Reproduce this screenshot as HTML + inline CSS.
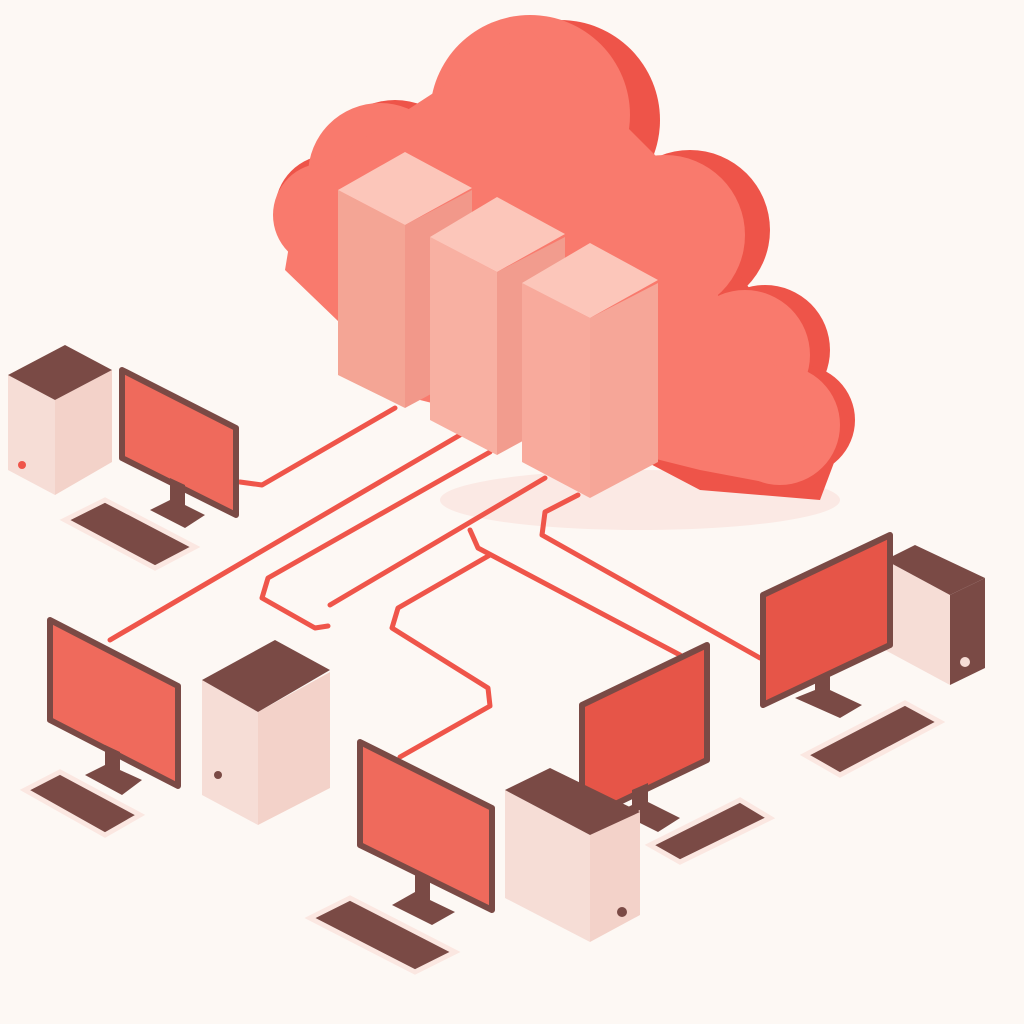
<!DOCTYPE html>
<html><head><meta charset="utf-8"><style>
html,body{margin:0;padding:0;background:#fdf8f4;}
svg{display:block}
</style></head><body>
<svg width="1024" height="1024" viewBox="0 0 1024 1024" xmlns="http://www.w3.org/2000/svg">
<rect width="1024" height="1024" fill="#fdf8f4"/>
<ellipse cx="640" cy="500" rx="200" ry="30" fill="#fbe9e4"/>
<g fill="#ee5449">
<circle cx="560" cy="120" r="100"/>
<circle cx="690" cy="230" r="80"/>
<circle cx="765" cy="350" r="65"/>
<circle cx="800" cy="420" r="55"/>
<circle cx="395" cy="175" r="75"/>
<circle cx="330" cy="210" r="55"/>
<polygon points="560,40 850,420 820,500 700,490 300,280"/>
</g>
<g fill="#f97a6d">
<circle cx="530" cy="115" r="100"/>
<circle cx="665" cy="235" r="80"/>
<circle cx="745" cy="355" r="65"/>
<circle cx="780" cy="425" r="60"/>
<circle cx="380" cy="175" r="72"/>
<circle cx="325" cy="215" r="52"/>
<polygon points="300,180 530,30 660,160 720,300 820,420 780,485 700,470 420,400 285,270"/>
</g>
<g fill="none" stroke="#ef554a" stroke-width="5" stroke-linejoin="round" stroke-linecap="round">
<polyline points="395,408 262,485 240,482"/>
<polyline points="460,435 110,640"/>
<polyline points="490,452 268,578 262,598 315,628 328,626"/>
<polyline points="545,478 330,605"/>
<polyline points="470,530 478,548 680,655"/>
<polyline points="490,555 398,608 392,628 488,688 490,706 400,757"/>
<polyline points="578,495 545,512 542,535 760,658"/>
</g>
<g>
<polygon points="338,190 405,225 405,408 338,375" fill="#f4a595"/>
<polygon points="405,225 472,190 472,372 405,408" fill="#f2988a"/>
<polygon points="338,190 405,152 472,188 405,225" fill="#fcc6ba"/>
<polygon points="430,237 497,272 497,455 430,420" fill="#f8b0a2"/>
<polygon points="497,272 565,237 565,418 497,455" fill="#f29c8e"/>
<polygon points="430,237 497,197 565,234 497,272" fill="#fcc6ba"/>
<polygon points="522,283 590,318 590,498 522,462" fill="#f8aa9c"/>
<polygon points="590,318 658,283 658,462 590,498" fill="#f6a698"/>
<polygon points="522,283 590,243 658,280 590,318" fill="#fcc6ba"/>
</g>
<g>
<polygon points="8,375 55,400 55,495 8,470" fill="#f6ddd6"/>
<polygon points="55,400 112,370 112,462 55,495" fill="#f3d2c9"/>
<polygon points="8,375 65,345 112,370 55,400" fill="#7a4a45"/>
<polygon points="202,680 258,712 258,825 202,795" fill="#f6ddd6"/>
<polygon points="258,712 330,672 330,788 258,825" fill="#f3d2c9"/>
<polygon points="202,680 275,640 330,670 258,712" fill="#7a4a45"/>
<polygon points="885,560 950,595 950,685 885,650" fill="#f6ddd6"/>
<polygon points="950,595 985,578 985,668 950,685" fill="#7a4a45"/>
<polygon points="885,560 915,545 985,578 950,595" fill="#7a4a45"/>
</g>
<g stroke="#7a4a45" stroke-width="6" stroke-linejoin="round">
<polygon points="122,370 236,428 236,515 122,458" fill="#ef6a5c"/>
<polygon points="50,620 178,686 178,786 50,720" fill="#ef6a5c"/>
<polygon points="360,742 492,808 492,910 360,845" fill="#ef6a5c"/>
<polygon points="582,705 707,645 707,760 582,820" fill="#e65548"/>
<polygon points="763,595 890,535 890,645 763,705" fill="#e65548"/>
</g>
<g fill="#7a4a45">
<polygon points="170,478 185,485 185,505 205,515 185,528 150,510 170,500"/>
<polygon points="105,745 120,752 120,770 142,780 122,795 85,775 105,765"/>
<polygon points="415,870 430,878 430,900 455,912 432,925 392,905 415,892"/>
<polygon points="632,790 648,783 648,802 680,818 658,832 618,812 632,805"/>
<polygon points="815,680 830,673 830,690 862,705 840,718 795,698 815,690"/>
</g>
<g>
<polygon points="505,790 590,835 590,942 505,898" fill="#f6ddd6"/>
<polygon points="590,835 640,810 640,915 590,942" fill="#f3d2c9"/>
<polygon points="505,790 550,768 640,812 590,835" fill="#7a4a45"/>
</g>
<g fill="#7a4a45" stroke="#fbe7e1" stroke-width="5">
<polygon points="65,520 105,500 195,547 155,568"/>
<polygon points="25,790 60,772 140,815 105,835"/>
<polygon points="310,918 350,898 455,952 415,972"/>
<polygon points="650,845 740,800 770,818 680,862"/>
<polygon points="805,755 905,703 940,722 840,775"/>
</g>
<circle cx="22" cy="465" r="4" fill="#ef554a"/><circle cx="218" cy="775" r="4" fill="#7a4a45"/><circle cx="622" cy="912" r="5" fill="#7a4a45"/><circle cx="965" cy="662" r="5" fill="#f6ddd6"/>
</svg>
</body></html>
